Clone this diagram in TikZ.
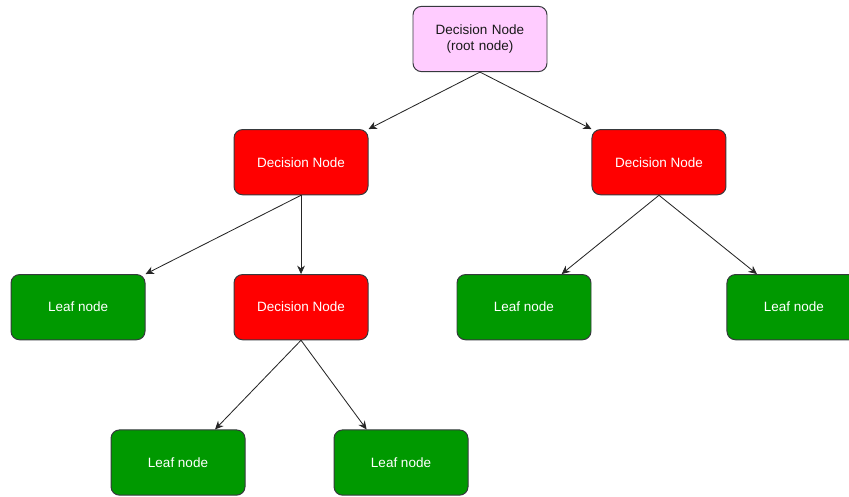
\documentclass[tikz,border=0pt]{standalone}
\usepackage{fontspec}
\setmainfont{Liberation Sans}
\usepackage{xcolor}
\usetikzlibrary{shapes,arrows.meta,positioning,calc}

\definecolor{rootpink}{HTML}{FFCCFF}
\definecolor{deciRed}{HTML}{FF0000}
\definecolor{leafGreen}{HTML}{009900}
\definecolor{edgeGray}{HTML}{36393D}

\begin{document}
\begin{tikzpicture}[
    root/.style={rectangle, draw=edgeGray, fill=rootpink, text=black!90, minimum width=3.35cm, minimum height=1.63cm, text width=3.1cm, align=center, rounded corners=6pt, line width=0.7pt},
    decision/.style={rectangle, draw=edgeGray, fill=deciRed, text=white, minimum width=3.35cm, minimum height=1.63cm, rounded corners=6pt, line width=0.7pt},
    leaf/.style={rectangle, draw=edgeGray, fill=leafGreen, text=white, minimum width=3.35cm, minimum height=1.63cm, rounded corners=6pt, line width=0.7pt},
    wire/.style={-{Stealth[length=6pt, width=5.5pt]}, line width=0.6pt, color=black!85},
    every node/.style={font=\fontsize{9.6}{11}\selectfont}
]
    \useasboundingbox (-12,0.975) rectangle (9.225,-11.45);

    % Root
    \node [root] (root) {Decision Node\\(root node)};

    % First level
    \node [decision, below left=1.425cm and 1.1cm of root] (deciL) {Decision Node};
    \node [decision, below right=1.425cm and 1.1cm of root] (deciR) {Decision Node};

    % Second level
    \node [decision, below=1.97cm of deciL] (deciM) {Decision Node};
    \node [leaf, left=2.2cm of deciM] (leafA) {Leaf node};
    \node [leaf, below left=1.97cm and 0cm of deciR] (leafB) {Leaf node};
    \node [leaf, below right=1.97cm and 0cm of deciR] (leafC) {Leaf node};

    % Third level
    \node [leaf, below=2.23cm of deciM, xshift=-3.075cm] (leafD) {Leaf node};
    \node [leaf, below=2.23cm of deciM, xshift=2.5cm] (leafE) {Leaf node};

    % Connections
    \draw [wire] (root.south) -- (deciL.north east);
    \draw [wire] (root.south) -- (deciR.north west);
    \draw [wire] (deciL.south) -- (leafA.north east);
    \draw [wire] (deciL.south) -- (deciM.north);
    \draw [wire] (deciR.south) -- ([xshift=0.94cm]leafB.north);
    \draw [wire] (deciR.south) -- ([xshift=-0.925cm]leafC.north);
    \draw [wire] (deciM.south) -- ([xshift=0.925cm]leafD.north);
    \draw [wire] (deciM.south) -- ([xshift=-0.86cm]leafE.north);
\end{tikzpicture}
\end{document}
